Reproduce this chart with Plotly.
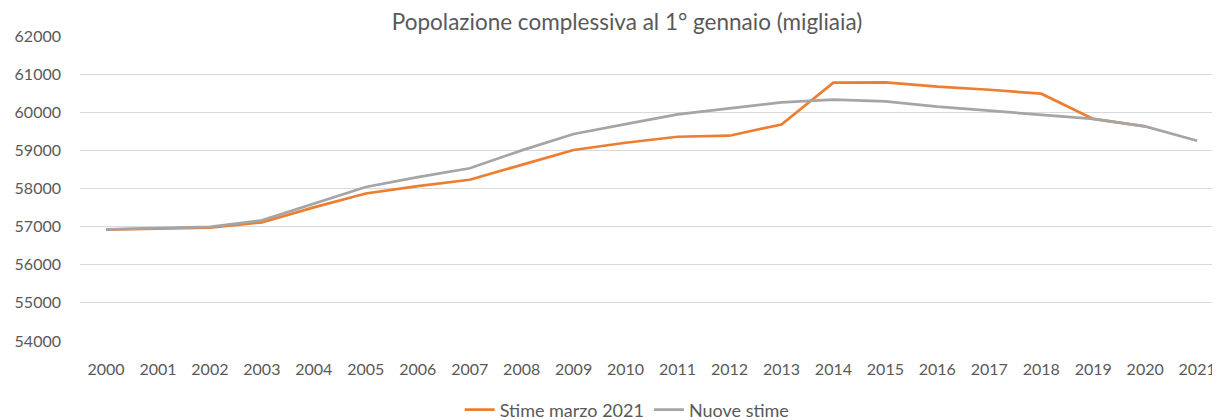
import plotly.graph_objects as go

years = [str(y) for y in range(2000, 2022)]
stime_marzo_2021 = [56920, 56950, 56975, 57110, 57505, 57870, 58060, 58230, 58620, 59010,
                    59200, 59357, 59385, 59680, 60775, 60785, 60670, 60590, 60487, 59826,
                    59630, None]
nuove_stime = [56930, 56960, 56995, 57165, 57600, 58040, 58300, 58530, 59000, 59430,
               59690, 59945, 60100, 60260, 60330, 60287, 60148, 60043, 59930, 59826,
               59630, 59252]

font_fam = "Lato, 'Open Sans', sans-serif"
txt_col = "#595959"

# page body has an 8px margin, so the figure is 1212x412 drawn at (8, 8)
W, H = 1212, 412

fig = go.Figure()
fig.add_trace(go.Scatter(x=years, y=stime_marzo_2021, mode="lines", name="Stime marzo 2021",
                         line=dict(color="#ED7D31", width=2.7)))
fig.add_trace(go.Scatter(x=years, y=nuove_stime, mode="lines", name="Nuove stime",
                         line=dict(color="#A5A5A5", width=2.7)))

fig.update_layout(
    width=W, height=H,
    margin=dict(l=72, r=0, t=28, b=79, autoexpand=False),
    paper_bgcolor="white", plot_bgcolor="white",
    font=dict(family=font_fam, size=16, color=txt_col),
    title=dict(text="Popolazione complessiva al 1° gennaio (migliaia)",
               x=619 / W, xanchor="center", xref="container",
               y=1 - 14 / H, yanchor="middle", yref="container",
               font=dict(size=22.5, color=txt_col, family=font_fam)),
    showlegend=True,
    legend=dict(orientation="h", x=0.48, xanchor="center",
                y=(H - 402) / H, yanchor="middle", yref="container",
                font=dict(size=18, color=txt_col), itemwidth=30, tracegroupgap=0),
    xaxis=dict(type="category", range=[-0.5, 21.44], showgrid=False, zeroline=False,
               showline=False, ticks="", ticklabelstandoff=17, automargin=False,
               tickfont=dict(size=16)),
    yaxis=dict(range=[54000, 62000], dtick=1000, tickformat="d", showgrid=True,
               gridcolor="#D9D9D9", gridwidth=1, zeroline=False, showline=False,
               ticks="", ticklabelstandoff=18, automargin=False,
               tickfont=dict(size=16)),
)

fig.write_html("out.html")
